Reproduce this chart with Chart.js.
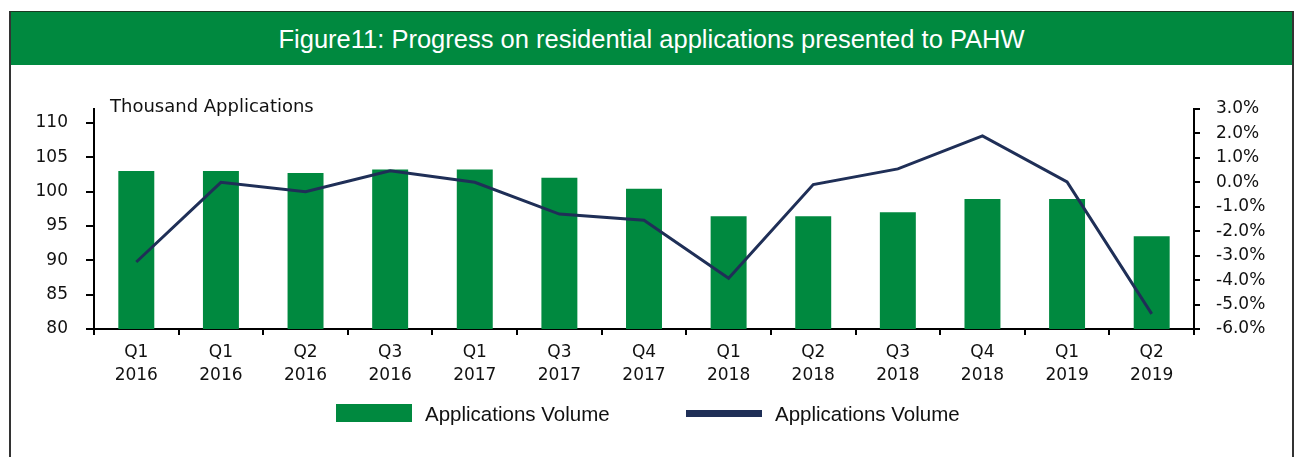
<!DOCTYPE html>
<html>
<head>
<meta charset="utf-8">
<script src="https://cdn.jsdelivr.net/npm/chart.js@4.4.1/dist/chart.umd.min.js"></script>
<style>
    html, body { margin: 0; padding: 0; background: #fff; }
    #frame {
        position: absolute; left: 9px; top: 11px; width: 1281px; height: 460px;
        border-left: 2px solid #333; border-right: 2px solid #333; border-top: 1px solid #1a3a22;
    }
    #header {
        position: absolute; left: 0; top: 0; width: 1281px; height: 53px;
        background: #00893f; color: #fff;
        font-family: "Liberation Sans", sans-serif;
        font-size: 25.5px; line-height: 55px; text-align: center;
    }
    #chartBox { position: absolute; left: 0; top: 53px; width: 1281px; height: 392px; }
    .legend-item { position: absolute; font-family: "Liberation Sans", sans-serif; font-size: 20.5px; color: #111; line-height: 22px; }
    .swatch { position: absolute; }
</style>
</head>
<body>
<div id="frame">
    <div id="header">Figure11: Progress on residential applications presented to PAHW</div>
    <div id="chartBox"><canvas id="mainChart"></canvas></div>
    <div class="swatch" style="left:325px; top:392px; width:76px; height:18px; background:#00893f;"></div>
    <div class="legend-item" style="left:414px; top:391px;">Applications Volume</div>
    <div class="swatch" style="left:675px; top:398px; width:76px; height:7px; background:#1f2f57;"></div>
    <div class="legend-item" style="left:764px; top:391px;">Applications Volume</div>
</div>
<script>
// quarters on the x axis (two-line labels)
const quarters = ['Q1', 'Q1', 'Q2', 'Q3', 'Q1', 'Q3', 'Q4', 'Q1', 'Q2', 'Q3', 'Q4', 'Q1', 'Q2'];
const years = ['2016', '2016', '2016', '2016', '2017', '2017', '2017', '2018', '2018', '2018', '2018', '2019', '2019'];

// thousand applications (bars, left axis)
const volume = [103.0, 103.0, 102.7, 103.2, 103.2, 102.0, 100.4, 96.4, 96.4, 97.0, 98.9, 98.9, 93.5];

// change in % (line, right axis)
const change = [-3.26, 0.0, -0.38, 0.47, 0.0, -1.3, -1.55, -3.92, -0.09, 0.55, 1.9, 0.02, -5.38];

const leftTicks = { min: 80, max: 112, step: 5 };
const rightTicks = { min: -6, max: 3, step: 1 };

document.addEventListener('DOMContentLoaded', function() {
    const labels = quarters.map((q, i) => [q, years[i]]);
    const axisFont = { family: 'DejaVu Sans', size: 17 };

    // "Thousand Applications" above the left axis
    const axisCaption = {
        id: 'axisCaption',
        afterDraw(chart) {
            const ctx = chart.ctx;
            const area = chart.chartArea;
            ctx.save();
            ctx.font = '18px "DejaVu Sans"';
            ctx.fillStyle = '#111';
            ctx.textBaseline = 'middle';
            ctx.fillText('Thousand Applications', area.left + 16, area.top - 2);
            ctx.restore();
        }
    };

    const ctx = document.getElementById('mainChart').getContext('2d');
    new Chart(ctx, {
        data: {
            labels: labels,
            datasets: [
                {
                    type: 'line',
                    label: 'Applications Volume',
                    data: change,
                    yAxisID: 'yRight',
                    borderColor: '#1f2f57',
                    borderWidth: 3,
                    pointRadius: 0,
                    tension: 0,
                    order: 0
                },
                {
                    type: 'bar',
                    label: 'Applications Volume',
                    data: volume,
                    yAxisID: 'yLeft',
                    backgroundColor: '#00893f',
                    categoryPercentage: 1,
                    barPercentage: 0.425,
                    order: 1
                }
            ]
        },
        options: {
            responsive: true,
            maintainAspectRatio: false,
            animation: false,
            layout: { padding: { top: 44, bottom: 68, left: 0, right: 0 } },
            plugins: {
                legend: { display: false },
                tooltip: { enabled: false }
            },
            scales: {
                x: {
                    offset: true,
                    border: { color: '#000', width: 2 },
                    grid: { offset: true, drawOnChartArea: false, tickLength: 6, color: '#000', lineWidth: 2 },
                    ticks: { color: '#111', font: { family: 'DejaVu Sans', size: 17, lineHeight: 1.35 }, padding: 6, maxRotation: 0, autoSkip: false },
                    afterFit(scale) { scale.height = 60; }
                },
                yLeft: {
                    position: 'left',
                    min: leftTicks.min,
                    max: leftTicks.max,
                    border: { color: '#000', width: 2 },
                    grid: { drawOnChartArea: false, tickLength: 8, color: '#000', lineWidth: 2 },
                    ticks: { stepSize: leftTicks.step, includeBounds: false, color: '#111', font: axisFont, padding: 18 },
                    afterFit(scale) { scale.width = 83; }
                },
                yRight: {
                    position: 'right',
                    min: rightTicks.min,
                    max: rightTicks.max,
                    border: { color: '#000', width: 2 },
                    grid: { drawOnChartArea: false, tickLength: 6, color: '#000', lineWidth: 2 },
                    ticks: {
                        stepSize: rightTicks.step,
                        color: '#111',
                        font: axisFont,
                        padding: 16,
                        callback: v => v.toFixed(1) + '%'
                    },
                    afterFit(scale) { scale.width = 98; }
                }
            }
        },
        plugins: [axisCaption]
    });
});
</script>
</body>
</html>
